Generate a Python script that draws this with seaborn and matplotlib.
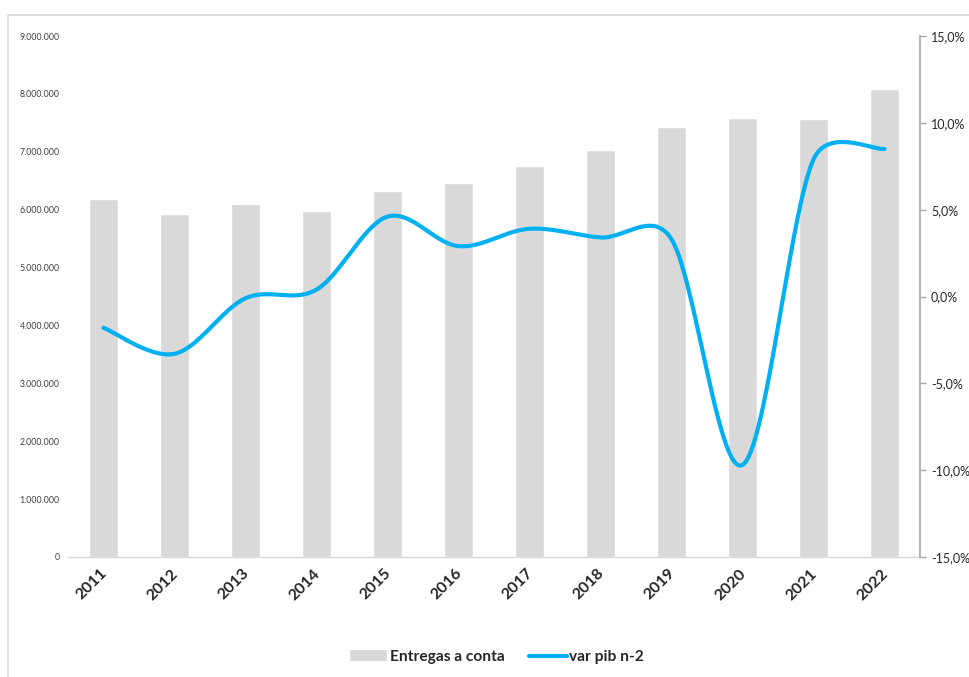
import numpy as np
import pandas as pd
import matplotlib
matplotlib.use("Agg")
import matplotlib.pyplot as plt
from matplotlib.ticker import FuncFormatter, FixedLocator
from matplotlib.lines import Line2D
from matplotlib.patches import Patch, Rectangle
import matplotlib.transforms as mtransforms
import seaborn as sns

years = ["2011", "2012", "2013", "2014", "2015", "2016", "2017", "2018", "2019", "2020", "2021", "2022"]
entregas = [6180000, 5920000, 6100000, 5970000, 6320000, 6460000, 6750000, 7030000, 7430000, 7590000, 7560000, 8080000]
var_pib = [-1.8, -3.3, -0.1, 0.4, 4.6, 2.9, 3.9, 3.4, 3.3, -9.7, 7.9, 8.5]

bar_color = "#D9D9D9"
line_color = "#00B0F0"

sns.set_theme(style="white")
plt.rcParams["font.family"] = ["Lato", "DejaVu Sans"]

W, H = 969, 677
fig = plt.figure(figsize=(W/100, H/100), dpi=100)
ax = fig.add_axes([68/W, 1-557/H, (920-68)/W, (557-36)/H])

df = pd.DataFrame({"year": years, "entregas": entregas})
sns.barplot(data=df, x="year", y="entregas", color=bar_color, width=0.42, ax=ax, saturation=1)
ax.set_xlim(-0.5, 11.5)
ax.set_ylim(0, 9000000)
ax.yaxis.set_major_locator(FixedLocator(np.arange(0, 9000001, 1000000)))
ax.yaxis.set_major_formatter(FuncFormatter(lambda v, p: f"{int(v):,}".replace(",", ".")))
ax.tick_params(axis="y", labelsize=6.3, labelcolor="#404040", length=0, pad=6)
ax.tick_params(axis="x", labelsize=11.5, length=0, pad=6)
for lab in ax.get_xticklabels():
    lab.set_rotation(45)
    lab.set_fontweight("bold")
    lab.set_ha("right")
    lab.set_va("center")
    lab.set_rotation_mode("anchor")
    lab.set_color("#262626")
    lab.set_transform(lab.get_transform() + mtransforms.ScaledTranslation(1.5/100, -6/100, fig.dpi_scale_trans))
ax.set_xlabel("")
ax.set_ylabel("")
for s in ["left", "top", "right"]:
    ax.spines[s].set_visible(False)
ax.spines["bottom"].set_color("#D9D9D9")
ax.spines["bottom"].set_linewidth(1)

# secondary axis with smoothed line (Catmull-Rom Bezier in screen space, control arms clamped)
ax2 = ax.twinx()
sx, sy = 71.0, 521.0 / 30.0   # px per category, px per percent
pts = np.column_stack([np.arange(len(var_pib)) * sx, np.array(var_pib, dtype=float) * sy])
n = len(pts)
c_prev = [None] * n
c_next = [None] * n
for i in range(n):
    a = pts[max(i-1, 0)]
    b = pts[min(i+1, n-1)]
    O = (b - a) / 6.0
    L = np.hypot(*O)
    if i > 0:
        dp = np.hypot(*(pts[i] - pts[i-1]))
        k = min(1.0, 0.5 * dp / L) if L > 0 else 1.0
        c_prev[i] = pts[i] - O * k
    if i < n - 1:
        dn = np.hypot(*(pts[i+1] - pts[i]))
        k = min(1.0, 0.5 * dn / L) if L > 0 else 1.0
        c_next[i] = pts[i] + O * k
xs_all, ys_all = [], []
t = np.linspace(0, 1, 60)[:, None]
for i in range(n - 1):
    P0, P3 = pts[i], pts[i+1]
    C1, C2 = c_next[i], c_prev[i+1]
    B = (1-t)**3*P0 + 3*(1-t)**2*t*C1 + 3*(1-t)*t**2*C2 + t**3*P3
    xs_all.extend(B[:, 0] / sx); ys_all.extend(B[:, 1] / sy)
line_df = pd.DataFrame({"x": xs_all, "y": ys_all})
sns.lineplot(data=line_df, x="x", y="y", color=line_color, linewidth=3, ax=ax2, sort=False)
ax2.set_ylim(-15, 15)
ax2.set_xlim(-0.5, 11.5)
ax2.yaxis.set_major_locator(FixedLocator(np.arange(-15, 15.1, 5)))
ax2.yaxis.set_major_formatter(FuncFormatter(lambda v, p: f"{v:.1f}%".replace(".", ",")))
ax2.tick_params(axis="y", labelsize=9, labelcolor="#262626", length=4, width=1, color="#A6A6A6", direction="out", pad=4, right=True)
ax2.set_xlabel("")
ax2.set_ylabel("")
for s in ["left", "top", "bottom"]:
    ax2.spines[s].set_visible(False)
ax2.spines["right"].set_color("#A6A6A6")
ax2.spines["right"].set_linewidth(1.2)

# legend
handles = [Patch(facecolor=bar_color, edgecolor="none"),
           Line2D([0], [0], color=line_color, linewidth=3)]
leg = fig.legend(handles, ["Entregas a conta", "var pib n-2"], loc="center",
                 bbox_to_anchor=(497/W, 1-657/H), ncol=2, frameon=False,
                 prop={"weight": "bold", "size": 11.2}, handlelength=2.4,
                 handletextpad=0.15, columnspacing=1.6)

# outer chart border
fig.patches.append(Rectangle((8/W, -0.05), 1.2, 1-15/H+0.05, transform=fig.transFigure,
                             fill=False, edgecolor="#D9D9D9", linewidth=1.2))

fig.savefig("out.png", dpi=100)
